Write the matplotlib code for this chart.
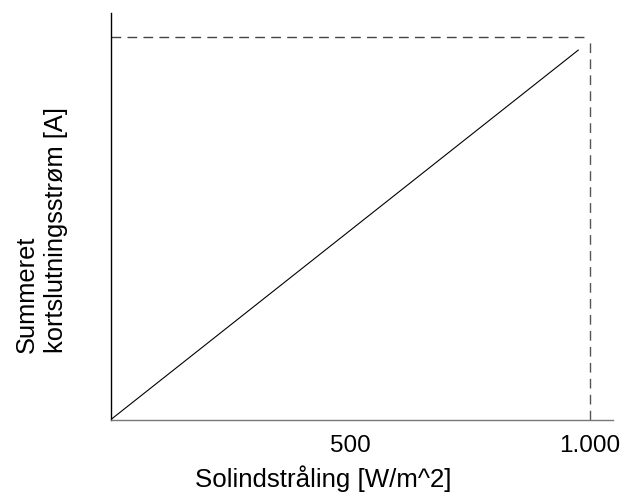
import matplotlib
matplotlib.use("Agg")
import matplotlib.pyplot as plt

# Data
irradiance = [0, 976]          # W/m^2
current = [0, 9.65]            # A (relative)
stc_irradiance = 1000
stc_current = 10.0
xtick_values = [500, 1000]
xtick_labels = ["500", "1.000"]

plt.rcParams['font.family'] = ['Liberation Sans', 'DejaVu Sans']

fig = plt.figure(figsize=(6.37, 4.95), dpi=100)
ax = fig.add_axes([110.7/637, 1 - 419.7/495, (612.7-110.7)/637, (419.7-13)/495])

ax.plot(irradiance, current, color='black', lw=0.8)
ax.plot([0, stc_irradiance], [stc_current, stc_current], color='#444444', lw=1.0,
        linestyle=(0, (7, 4.5)))
ax.plot([stc_irradiance, stc_irradiance], [0, stc_current], color='#555555', lw=1.0,
        linestyle=(0, (7, 4.5)))

ax.set_xlim(0, 1048)
ax.set_ylim(0, 10.62)
ax.set_xticks(xtick_values)
ax.set_xticklabels(xtick_labels, fontsize=17.5)
ax.set_yticks([])
ax.tick_params(axis='x', length=0, pad=11)

for s in ['top', 'right']:
    ax.spines[s].set_visible(False)
ax.spines['left'].set_color('black')
ax.spines['left'].set_linewidth(1.0)
ax.spines['bottom'].set_color('#777777')
ax.spines['bottom'].set_linewidth(1.0)

ax.set_xlabel("Solindstråling [W/m^2]", fontsize=18.6, va='baseline')
ax.xaxis.set_label_coords((323.5-110.7)/502, (419.7-486.7)/406.7)

ax.set_ylabel("Summeret\nkortslutningsstrøm [A]", fontsize=18.4, multialignment='left',
              va='center', ha='center', rotation=90, linespacing=1.25)
ax.yaxis.set_label_coords((41.5-110.7)/502, (419.7-230)/406.7)

fig.savefig("out.png", dpi=100)
